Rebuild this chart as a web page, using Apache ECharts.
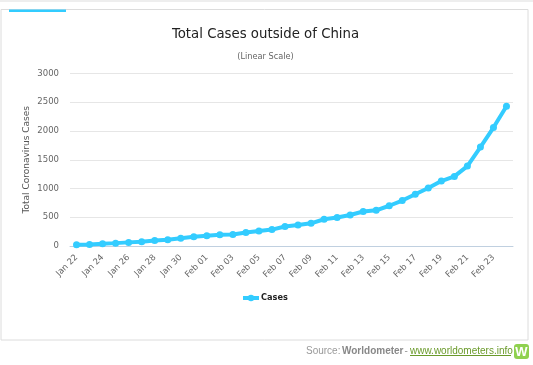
<!DOCTYPE html>
<html><head><meta charset="utf-8">
<style>html,body{margin:0;padding:0;background:#fff}#c{width:533px;height:365px}</style>
<script src="https://cdn.jsdelivr.net/npm/echarts@6/dist/echarts.min.js"></script></head>
<body><div id="c"></div>
<script>
const categories=["Jan 22","Jan 23","Jan 24","Jan 25","Jan 26","Jan 27","Jan 28","Jan 29","Jan 30","Jan 31","Feb 01","Feb 02","Feb 03","Feb 04","Feb 05","Feb 06","Feb 07","Feb 08","Feb 09","Feb 10","Feb 11","Feb 12","Feb 13","Feb 14","Feb 15","Feb 16","Feb 17","Feb 18","Feb 19","Feb 20","Feb 21","Feb 22","Feb 23","Feb 24"];
const cases=[20,27,40,50,63,75,95,110,135,160,180,195,200,235,260,285,340,365,395,465,495,540,600,620,700,790,900,1010,1130,1210,1390,1720,2060,2430];
const yTicks=[0,500,1000,1500,2000,2500,3000];
const titleText="Total Cases outside of China", subtitleText="(Linear Scale)", yName="Total Coronavirus Cases", seriesName="Cases";
const F='"DejaVu Sans",Verdana,sans-serif', S='"Liberation Sans",Arial,sans-serif';
const chart=echarts.init(document.getElementById('c'),null,{renderer:'canvas'});
chart.setOption({
 animation:false,backgroundColor:'#fff',
 grid:{left:70,top:73.5,width:443,height:172.5,containLabel:false},
 legend:{data:[seriesName],left:241,top:294,selectedMode:false,itemWidth:16,itemHeight:8,itemGap:4,padding:0,
   lineStyle:{width:4},
   textStyle:{fontFamily:F,fontSize:8.2,fontWeight:'bold',color:'#222',padding:[0,0,0,-3]}},
 xAxis:{type:'category',data:categories,boundaryGap:true,
   axisLine:{lineStyle:{color:'#c0d0e0',width:1}},axisTick:{show:false},
   axisLabel:{interval:1,rotate:45,fontFamily:F,fontSize:8.5,color:'#666',margin:10}},
 yAxis:{type:'value',min:yTicks[0],max:yTicks[yTicks.length-1],interval:500,
   name:yName,nameLocation:'middle',nameGap:39,nameMoveOverlap:false,nameTextStyle:{fontFamily:F,fontSize:9,color:'#555'},
   axisLine:{show:false},axisTick:{show:false},
   axisLabel:{formatter:v=>String(v),fontFamily:F,fontSize:8.5,color:'#666',margin:11},
   splitLine:{lineStyle:{color:'#e6e6e6',width:1}}},
 series:[{name:seriesName,type:'line',data:cases,symbol:'circle',symbolSize:7,showSymbol:true,
   lineStyle:{color:'#33ccff',width:4},itemStyle:{color:'#33ccff'},z:5}],
 graphic:[
  {type:'text',x:265.5,y:35,style:{text:titleText,textAlign:'center',textVerticalAlign:'middle',fontFamily:F,fontSize:13.3,fill:'#222'},z:3},
  {type:'text',x:265.5,y:56.5,style:{text:subtitleText,textAlign:'center',textVerticalAlign:'middle',fontFamily:F,fontSize:8.2,fill:'#666'},z:3},
  {type:'rect',shape:{x:1,y:9.5,width:527,height:330.5},style:{fill:'none',stroke:'#dcdcdc',lineWidth:1},z:-1},
  {type:'line',shape:{x1:0,y1:1,x2:533,y2:1},style:{stroke:'#eeeeee',lineWidth:2},z:-1},
  {type:'rect',shape:{x:9,y:9.5,width:57,height:2.5},style:{fill:'#33ccff'},z:1},
  {type:'text',x:306,y:351,style:{text:'Source:',textAlign:'left',textVerticalAlign:'middle',fontFamily:S,fontSize:10,fill:'#999'},z:2},
  {type:'text',x:342,y:351,style:{text:'Worldometer',textAlign:'left',textVerticalAlign:'middle',fontFamily:S,fontSize:10,fontWeight:'bold',fill:'#888'},z:2},
  {type:'text',x:404.5,y:351,style:{text:'-',textAlign:'left',textVerticalAlign:'middle',fontFamily:S,fontSize:10,fill:'#999'},z:2},
  {type:'text',x:410,y:351,style:{text:'www.worldometers.info',textAlign:'left',textVerticalAlign:'middle',fontFamily:S,fontSize:10,fill:'#6a9a2a'},z:2},
  {type:'line',shape:{x1:410,y1:355.5,x2:511,y2:355.5},style:{stroke:'#6a9a2a',lineWidth:1},z:2},
  {type:'rect',shape:{x:514,y:344,width:15,height:15,r:3},style:{fill:'#8fd14f'},z:2},
  {type:'text',x:521.5,y:352,style:{text:'W',textAlign:'center',textVerticalAlign:'middle',fontFamily:S,fontSize:13,fontWeight:'bold',fill:'#fff'},z:3}
 ]
});
</script></body></html>
